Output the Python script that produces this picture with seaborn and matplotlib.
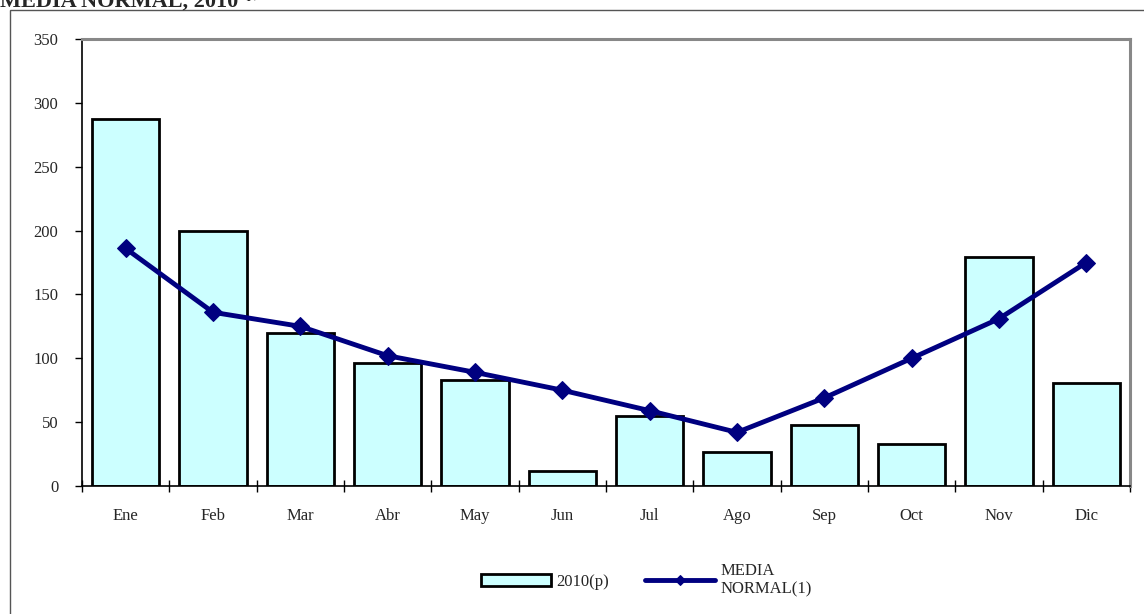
import numpy as np
import matplotlib
matplotlib.use("Agg")
import matplotlib.pyplot as plt
import seaborn as sns
from matplotlib.patches import Rectangle

meses = ["Ene", "Feb", "Mar", "Abr", "May", "Jun", "Jul", "Ago", "Sep", "Oct", "Nov", "Dic"]
lluvia_2010 = [287, 200, 120, 96, 83, 12, 55, 27, 48, 33, 179, 81]
media_normal = [186, 136, 125, 102, 89, 75, 59, 42, 69, 100, 131, 175]

sns.set_style("white")
plt.rcParams['font.family'] = ['Liberation Serif', 'DejaVu Serif']

fig = plt.figure(figsize=(11.44, 6.14), dpi=100)
ax = fig.add_axes([82/1144, 1 - 486/614, (1130 - 82)/1144, (486 - 39)/614])

sns.barplot(x=meses, y=lluvia_2010, color="#CCFFFF", edgecolor="black",
            linewidth=2, width=0.77, saturation=1, ax=ax, label="2010(p)")
sns.lineplot(x=meses, y=media_normal, color="#000080", linewidth=3.5,
             marker="D", markersize=9, markeredgecolor="#000080",
             sort=False, ax=ax, label="MEDIA\nNORMAL(1)")

ax.set_xlim(-0.5, 11.5)
ax.set_ylim(0, 350)
ax.set_yticks(range(0, 351, 50))
ax.tick_params(axis="y", direction="out", length=5, width=1, color="black",
               labelsize=12, pad=12, left=True)

ax.set_xticks(np.arange(-0.5, 12, 1))
ax.set_xticklabels([])
ax.set_xticks(range(12), minor=True)
ax.set_xticklabels(meses, minor=True)
ax.tick_params(axis="x", which="major", direction="inout", length=8, width=1,
               color="black", bottom=True)
ax.tick_params(axis="x", which="minor", length=0, labelsize=12, pad=16, bottom=True)
ax.set_xlabel("")
ax.set_ylabel("")

for s in ["left", "bottom"]:
    ax.spines[s].set_color("black")
    ax.spines[s].set_linewidth(1.2)
for s in ["top", "right"]:
    ax.spines[s].set_color("#888888")
    ax.spines[s].set_linewidth(2.2)

handles, labels = ax.get_legend_handles_labels()
order = [labels.index("2010(p)"), labels.index("MEDIA\nNORMAL(1)")]
ax.get_legend().remove()
fig.legend([handles[i] for i in order], [labels[i] for i in order],
           loc="center", ncol=2, frameon=False,
           bbox_to_anchor=(0.565, 1 - 580/614), fontsize=12,
           handlelength=4.2, columnspacing=2.2, handletextpad=0.3,
           markerscale=0.6)

fig.patches.append(Rectangle((9.5/1144, -0.05), 1.2, 1 - 10/614 + 0.05,
                             transform=fig.transFigure, fill=False,
                             edgecolor="#555555", linewidth=1))

fig.text(0.0, 1 - 7/614, "MEDIA NORMAL, 2010", fontsize=16, fontweight="bold",
         va="baseline", ha="left")
fig.text(0.213, 1 + 2/614, "(p)", fontsize=9, fontweight="bold",
         va="baseline", ha="left")

fig.savefig("out.png", dpi=100)
